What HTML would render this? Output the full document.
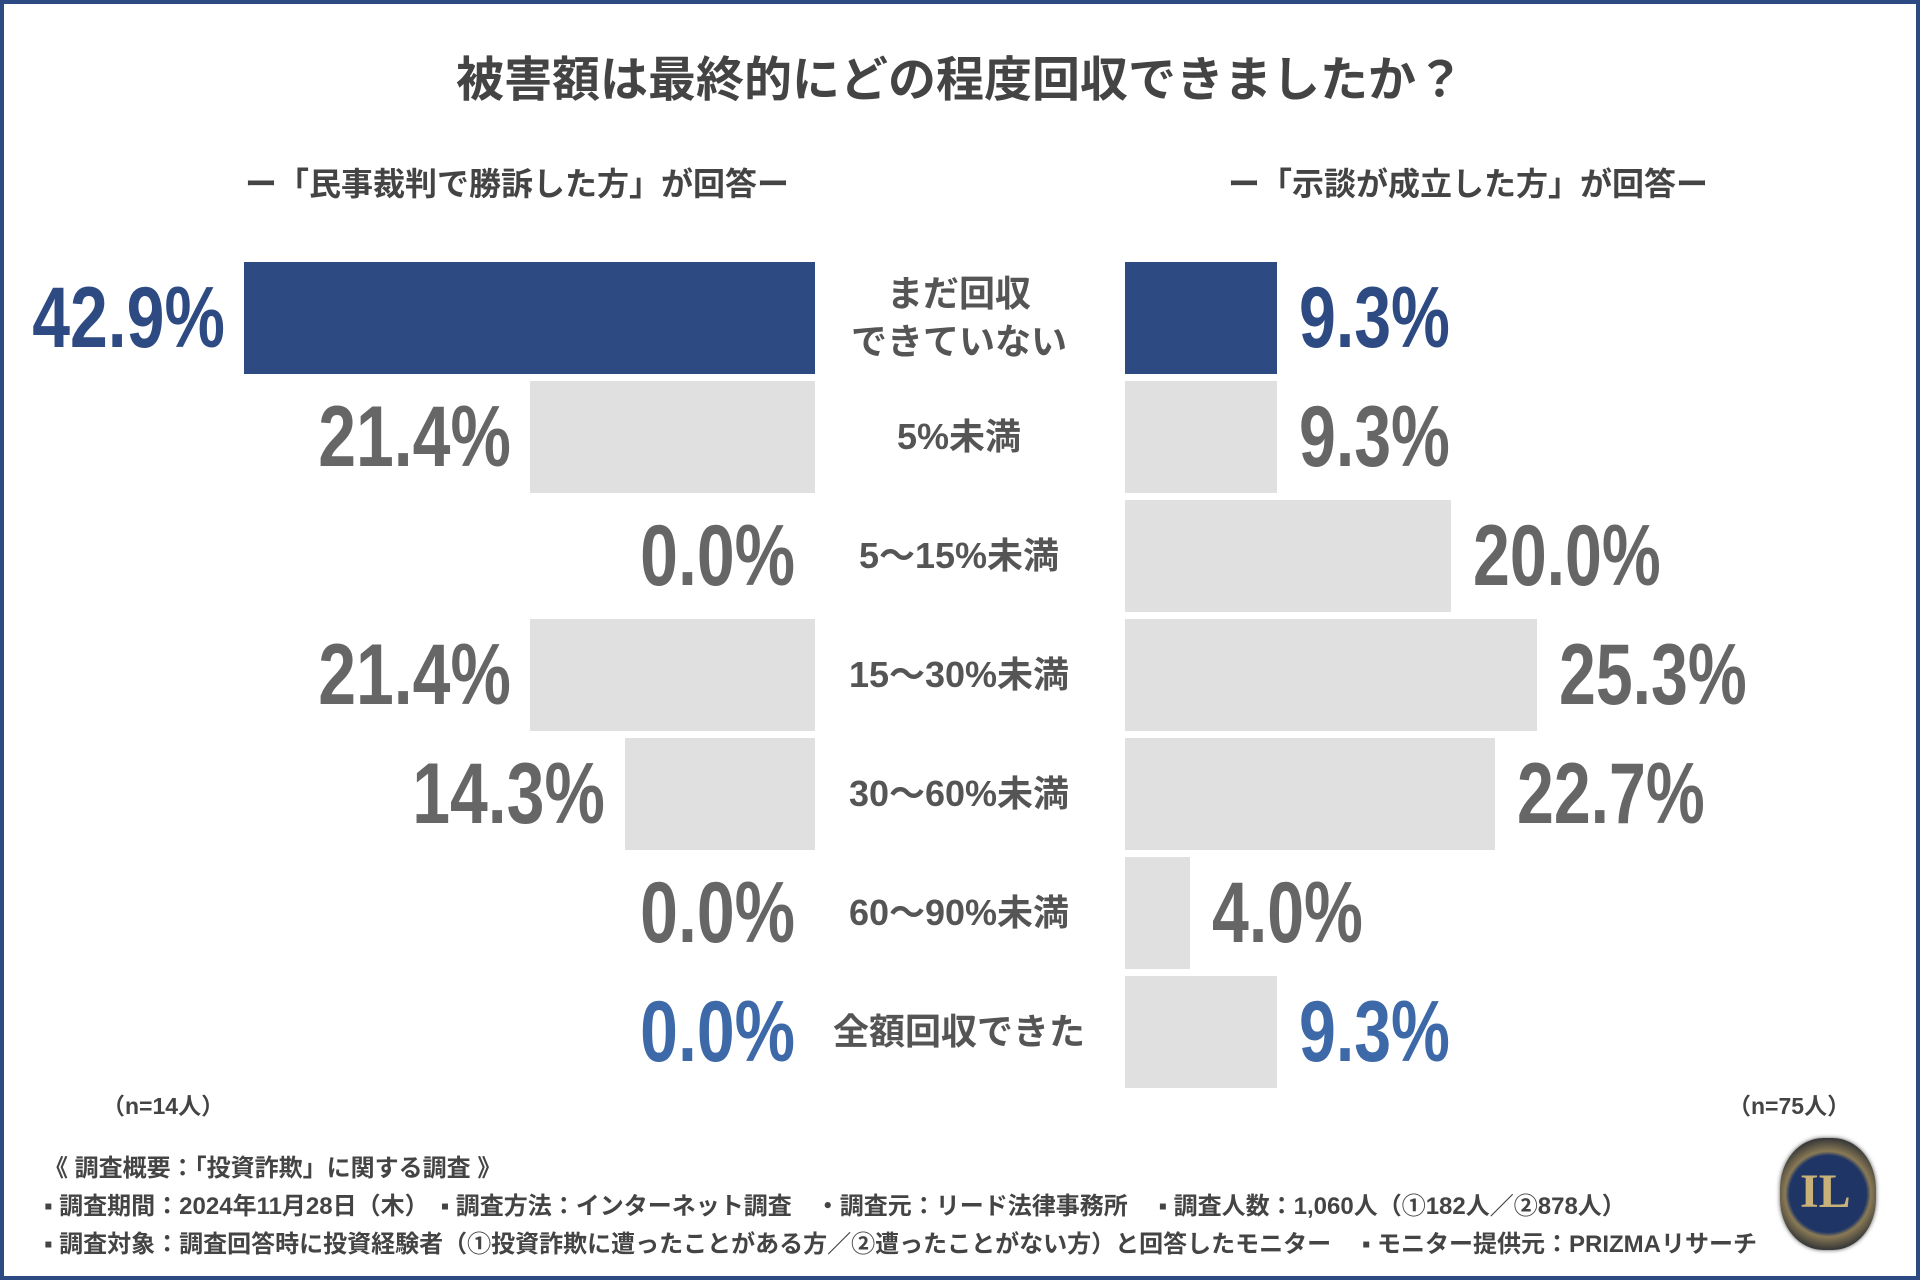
<!DOCTYPE html>
<html><head><meta charset="utf-8">
<style>
html,body{margin:0;padding:0;}
body{width:1920px;height:1280px;position:relative;overflow:hidden;background:#fff;font-family:"Liberation Sans","Noto Sans CJK JP",sans-serif;}
#frame{position:absolute;left:0;top:0;width:1912px;height:1272px;border:4px solid #2e4a82;}
.t{position:absolute;white-space:nowrap;}
#title{left:0;width:1920px;text-align:center;top:40px;font-size:48px;font-weight:bold;color:#444;}
.sub{top:159px;font-size:32px;font-weight:bold;color:#444;}
.bar{position:absolute;}
.val{position:absolute;font-size:86px;font-weight:bold;line-height:112px;white-space:nowrap;}
.cat{position:absolute;font-size:36px;font-weight:bold;color:#555;text-align:center;width:360px;line-height:48px;}
.foot{left:44px;font-size:24px;font-weight:bold;color:#444;}
</style></head><body>
<div id="frame"></div>
<div id="title" class="t">被害額は最終的にどの程度回収できましたか？</div>
<div class="t sub" style="left:245px">ー「民事裁判で勝訴した方」が回答ー</div>
<div class="t sub" style="left:1228px">ー「示談が成立した方」が回答ー</div>
<div id="chart"></div>
<div class="t" style="left:102px;top:1087px;font-size:23px;font-weight:bold;color:#444">（n=14人）</div>
<div class="t" style="left:1728px;top:1087px;font-size:23px;font-weight:bold;color:#444">（n=75人）</div>
<div class="t foot" style="top:1148px">《 調査概要：「投資詐欺」に関する調査 》</div>
<div class="t foot" style="top:1186px">▪ 調査期間：2024年11月28日（木）　▪ 調査方法：インターネット調査　・調査元：リード法律事務所　 ▪ 調査人数：1,060人（①182人／②878人）</div>
<div class="t foot" style="top:1224px">▪ 調査対象：調査回答時に投資経験者（①投資詐欺に遭ったことがある方／②遭ったことがない方）と回答したモニター　 ▪ モニター提供元：PRIZMAリサーチ</div>
<div style="position:absolute;left:1780px;top:1138px;width:96px;height:112px;border-radius:45%;background:radial-gradient(circle,#1e3566 52%,#8a7a55 58%,#3a3a3a 75%);box-shadow:0 0 4px #555;">
<div class="t" style="left:20px;top:26px;font-family:'Liberation Serif',serif;font-size:48px;color:#c9b27a;font-weight:bold">IL</div></div>
<script>
const categories=["まだ回収<br>できていない","5%未満","5〜15%未満","15〜30%未満","30〜60%未満","60〜90%未満","全額回収できた"];
const leftValues=[42.9,21.4,0.0,21.4,14.3,0.0,0.0];
const rightValues=[9.3,9.3,20.0,25.3,22.7,4.0,9.3];
const leftScale=13.3, rightScale=16.3;
const leftX=815, rightX=1125, top0=262, pitch=119, barH=112;
const chart=document.getElementById('chart');
function yPos(i){return top0+i*pitch;}
function valColor(i){return i===0?'#2e4a82':(i===categories.length-1?'#3d69a8':'#666');}
categories.forEach((c,i)=>{
  const y=yPos(i);
  const lw=leftValues[i]*leftScale;
  const lb=document.createElement('div');lb.className='bar';
  
  
  lb.style.cssText=`left:${leftX-lw}px;top:${y}px;width:${lw}px;height:${barH}px;background:${i===0?'#2e4a82':'#e0e0e0'}`;
  chart.appendChild(lb);
  const lv=document.createElement('div');lv.className='val';
  
  
  lv.textContent=leftValues[i].toFixed(1)+'%';
  lv.style.cssText=`right:${1920-(leftX-lw-20)}px;top:${y}px;color:${valColor(i)};transform:scaleX(0.79);transform-origin:right center`;
  chart.appendChild(lv);
  const rw=rightValues[i]*rightScale;
  const rb=document.createElement('div');rb.className='bar';
  
  
  rb.style.cssText=`left:${rightX}px;top:${y}px;width:${rw}px;height:${barH}px;background:${i===0?'#2e4a82':'#e0e0e0'}`;
  chart.appendChild(rb);
  const rv=document.createElement('div');rv.className='val';
  
  
  rv.textContent=rightValues[i].toFixed(1)+'%';
  rv.style.cssText=`left:${rightX+rw+22}px;top:${y}px;color:${valColor(i)};transform:scaleX(0.77);transform-origin:left center`;
  chart.appendChild(rv);
  const cl=document.createElement('div');cl.className='cat';
  
  
  cl.innerHTML=c;
  const lines=c.split('<br>').length;
  cl.style.cssText=`left:${959-180}px;top:${y+barH/2-lines*24}px;`;
  chart.appendChild(cl);
});
</script>
</body></html>
